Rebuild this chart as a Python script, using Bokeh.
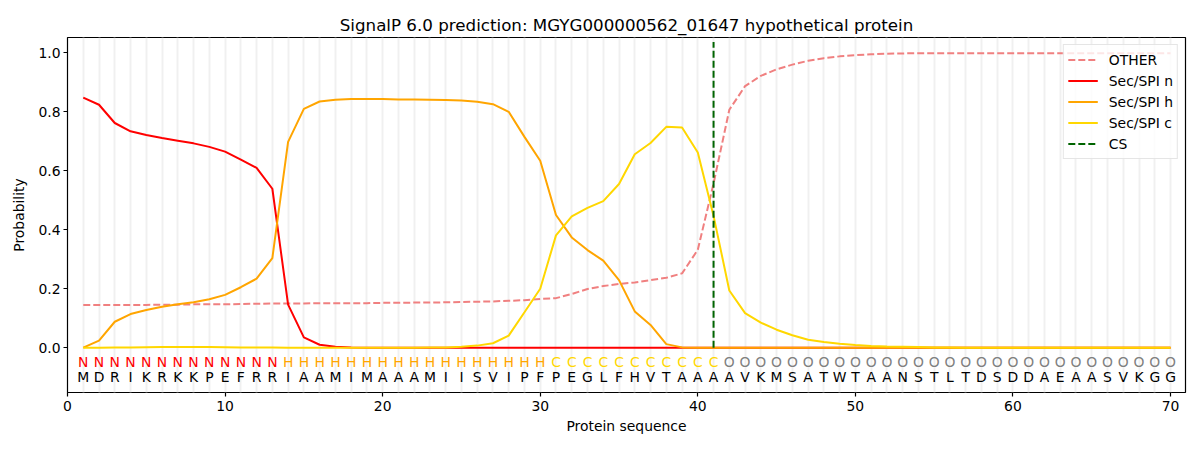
from bokeh.plotting import figure
from bokeh.models import ColumnDataSource, FixedTicker, Legend, LegendItem, Range1d, CustomJSTickFormatter
from bokeh.core.properties import value
from bokeh.embed import file_html
from bokeh.resources import INLINE

TITLE = "SignalP 6.0 prediction: MGYG000000562_01647 hypothetical protein"

sequence = list("MDRIKRKKPEFRRIAAMIMAAAMIISVIPFPEGLFHVTAAAAVKMSATWTAANSTLTDSDDAEAASVKGG")
region_labels = ["N"] * 13 + ["H"] * 17 + ["C"] * 11 + ["O"] * 29
positions = list(range(1, 71))

other = [0.145, 0.145, 0.145, 0.145, 0.145, 0.146, 0.146, 0.147, 0.147, 0.147,
         0.148, 0.149, 0.150, 0.150, 0.150, 0.151, 0.151, 0.151, 0.151, 0.152,
         0.152, 0.153, 0.153, 0.154, 0.155, 0.156, 0.157, 0.159, 0.161, 0.165,
         0.168, 0.182, 0.199, 0.209, 0.216, 0.221, 0.229, 0.237, 0.252, 0.332,
         0.557, 0.807, 0.887, 0.922, 0.944, 0.960, 0.973, 0.982, 0.988, 0.992,
         0.995, 0.997, 0.998, 0.999, 0.999, 0.999, 0.999, 0.999, 0.999, 0.999,
         0.999, 0.999, 0.999, 0.999, 0.999, 0.999, 0.999, 0.999, 0.999, 0.999]

sec_n = [0.848, 0.824, 0.762, 0.734, 0.721, 0.711, 0.702, 0.693, 0.681, 0.665,
         0.638, 0.610, 0.539, 0.146, 0.035, 0.010, 0.003, 0.001, 0.0, 0.0,
         0.0, 0.0, 0.0, 0.0, 0.0, 0.0, 0.0, 0.0, 0.0, 0.0,
         0.0, 0.0, 0.0, 0.0, 0.0, 0.0, 0.0, 0.0, 0.0, 0.0,
         0.0, 0.0, 0.0, 0.0, 0.0, 0.0, 0.0, 0.0, 0.0, 0.0,
         0.0, 0.0, 0.0, 0.0, 0.0, 0.0, 0.0, 0.0, 0.0, 0.0,
         0.0, 0.0, 0.0, 0.0, 0.0, 0.0, 0.0, 0.0, 0.0, 0.0]

sec_h = [0.0, 0.024, 0.088, 0.114, 0.128, 0.139, 0.147, 0.154, 0.164, 0.179,
         0.205, 0.234, 0.304, 0.698, 0.810, 0.835, 0.841, 0.843, 0.843, 0.843,
         0.842, 0.842, 0.841, 0.840, 0.838, 0.834, 0.826, 0.800, 0.715, 0.634,
         0.450, 0.374, 0.331, 0.295, 0.229, 0.123, 0.077, 0.012, 0.001, 0.0,
         0.0, 0.0, 0.0, 0.0, 0.0, 0.0, 0.0, 0.0, 0.0, 0.0,
         0.0, 0.0, 0.0, 0.0, 0.0, 0.0, 0.0, 0.0, 0.0, 0.0,
         0.0, 0.0, 0.0, 0.0, 0.0, 0.0, 0.0, 0.0, 0.0, 0.0]

sec_c = [0.0, 0.0, 0.0005, 0.001, 0.0015, 0.002, 0.002, 0.002, 0.002, 0.0015,
         0.001, 0.001, 0.0005, 0.0, 0.0, 0.0, 0.0, 0.0, 0.0, 0.0,
         0.0, 0.0, 0.0005, 0.001, 0.003, 0.007, 0.015, 0.041, 0.120, 0.200,
         0.381, 0.445, 0.474, 0.497, 0.555, 0.656, 0.694, 0.749, 0.747, 0.662,
         0.447, 0.194, 0.117, 0.085, 0.061, 0.042, 0.027, 0.019, 0.013, 0.009,
         0.006, 0.004, 0.003, 0.002, 0.001, 0.001, 0.0, 0.0, 0.0, 0.0,
         0.0, 0.0, 0.0, 0.0, 0.0, 0.0, 0.0, 0.0, 0.0, 0.0]

cs_position = 41
cs_span = [0.0, 1.037]

x_ticks = [0, 10, 20, 30, 40, 50, 60, 70]
y_ticks = [0.0, 0.2, 0.4, 0.6, 0.8, 1.0]

label_colors = {"N": "#ff0000", "H": "#ffa500", "C": "#ffd700", "O": "#808080"}

FONT = "DejaVu Sans"

p = figure(width=1192, height=442, output_backend="svg", toolbar_location=None,
           x_range=Range1d(0, 70.95), y_range=Range1d(-0.152, 1.052),
           min_border_left=67, min_border_right=7, min_border_top=37, min_border_bottom=50)

p.title.text = TITLE
p.title.align = "center"
p.title.text_font = FONT
p.title.text_font_size = "16.7px"
p.title.text_font_style = "normal"
p.title.text_color = "#000000"
p.title.standoff = 6

p.outline_line_color = "#000000"
p.outline_line_width = 1.2
p.background_fill_color = "#ffffff"
p.border_fill_color = "#ffffff"

p.ygrid.visible = False
p.xgrid.ticker = FixedTicker(ticks=positions)
p.xgrid.grid_line_color = "#f0f0f0"
p.xgrid.grid_line_width = 2

p.xaxis.ticker = FixedTicker(ticks=x_ticks)
p.yaxis.ticker = FixedTicker(ticks=y_ticks)
p.yaxis.formatter = CustomJSTickFormatter(code="return tick.toFixed(1);")

for ax in (p.xaxis[0], p.yaxis[0]):
    ax.axis_line_color = None
    ax.major_tick_line_color = "#000000"
    ax.major_tick_line_width = 1.2
    ax.major_tick_out = 4
    ax.major_tick_in = 0
    ax.minor_tick_line_color = None
    ax.major_label_text_font = FONT
    ax.major_label_text_font_size = "13.9px"
    ax.major_label_text_color = "#000000"
    ax.axis_label_text_font = FONT
    ax.axis_label_text_font_size = "13.9px"
    ax.axis_label_text_font_style = "normal"
    ax.axis_label_text_color = "#000000"

p.xaxis.axis_label = "Protein sequence"
p.yaxis.axis_label = "Probability"
p.xaxis.major_label_standoff = 4
p.xaxis.axis_label_standoff = 4
p.yaxis.major_label_standoff = 3
p.yaxis.axis_label_standoff = 8

src = ColumnDataSource(dict(x=positions, other=other, n=sec_n, h=sec_h, c=sec_c))

r_other = p.line("x", "other", source=src, line_color="#f08080", line_width=2, line_dash="7 3")
r_n = p.line("x", "n", source=src, line_color="#ff0000", line_width=2)
r_h = p.line("x", "h", source=src, line_color="#ffa500", line_width=2)
r_c = p.line("x", "c", source=src, line_color="#ffd700", line_width=2)
r_cs = p.line([cs_position, cs_position], cs_span, line_color="#006400", line_width=2, line_dash="7 3")

lab_src = ColumnDataSource(dict(x=positions, lab=region_labels,
                                col=[label_colors[l] for l in region_labels],
                                aa=sequence,
                                y1=[-0.049] * len(positions), y2=[-0.100] * len(positions)))
p.text(x="x", y="y1", text="lab", text_color="col", source=lab_src,
       text_align="center", text_baseline="middle",
       text_font=value(FONT), text_font_size="13.9px")
p.text(x="x", y="y2", text="aa", text_color="#000000", source=lab_src,
       text_align="center", text_baseline="middle",
       text_font=value(FONT), text_font_size="13.9px")

legend = Legend(items=[
    LegendItem(label="OTHER", renderers=[r_other]),
    LegendItem(label="Sec/SPI n", renderers=[r_n]),
    LegendItem(label="Sec/SPI h", renderers=[r_h]),
    LegendItem(label="Sec/SPI c", renderers=[r_c]),
    LegendItem(label="CS", renderers=[r_cs]),
], location="top_right")
legend.margin = 7
legend.padding = 4
legend.spacing = 0
legend.label_height = 21
legend.glyph_height = 21
legend.glyph_width = 30
legend.label_standoff = 11
legend.label_text_font = FONT
legend.label_text_font_size = "13.9px"
legend.label_text_color = "#000000"
legend.border_line_color = "#cccccc"
legend.border_line_width = 1
legend.background_fill_color = "#ffffff"
legend.background_fill_alpha = 0.8
p.add_layout(legend)

open("out.html", "w").write(file_html(p, INLINE))
